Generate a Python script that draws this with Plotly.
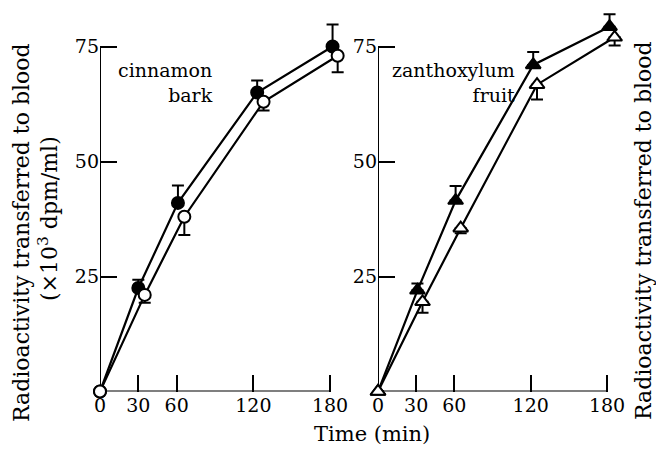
import plotly.graph_objects as go

# ---------------- data ----------------
time_ticks = [0, 30, 60, 120, 180]
y_ticks = [25, 50, 75]

cin_fill_x = [0, 30, 61, 123, 182]
cin_fill_y = [0, 22.5, 41, 65, 75]
cin_fill_err = [0, 1.8, 3.8, 2.6, 4.8]

cin_open_x = [0, 35, 66, 128, 186]
cin_open_y = [0, 21, 38, 63, 73]
cin_open_err = [0, 1.7, 4.0, 1.9, 3.6]

zan_fill_x = [0, 31, 61, 122, 182]
zan_fill_y = [0, 22, 41.5, 71, 79.3]
zan_fill_err = [0, 1.5, 3.2, 2.8, 2.7]

zan_open_x = [0, 35, 65, 125, 186]
zan_open_y = [0, 19.5, 35.5, 66.7, 77]
zan_open_err = [0, 2.4, 1.1, 3.2, 1.8]

W, H = 656, 450
FONT = "DejaVu Serif"
FS = 19


def px(x):
    return x / W


def py(y):
    return 1 - y / H


fig = go.Figure()


def add_series(xs, ys, err, filled, symbol, xa, ya, up):
    zeros = [0] * len(err)
    fig.add_trace(go.Scatter(
        x=xs, y=ys, xaxis=xa, yaxis=ya, mode="lines+markers",
        line=dict(color="black", width=2.2),
        marker=dict(symbol=symbol, size=12 if "circle" in symbol else 13,
                    color="black" if filled else "white",
                    line=dict(color="black", width=2)),
        error_y=dict(type="data", symmetric=False,
                     array=err if up else zeros,
                     arrayminus=zeros if up else err,
                     color="black", thickness=2, width=6),
        cliponaxis=False, showlegend=False,
    ))


add_series(cin_fill_x, cin_fill_y, cin_fill_err, True, "circle", "x", "y", True)
add_series(cin_open_x, cin_open_y, cin_open_err, False, "circle", "x", "y", False)
add_series(zan_fill_x, zan_fill_y, zan_fill_err, True, "triangle-up", "x2", "y2", True)
add_series(zan_open_x, zan_open_y, zan_open_err, False, "triangle-up", "x2", "y2", False)

XMAX = 192
YMAX = 85
ydom = [py(391.5), py(0.5)]

axis_common = dict(showgrid=False, zeroline=False, showline=False,
                   ticks="inside", ticklen=17, tickwidth=2, tickcolor="black",
                   tickfont=dict(family=FONT, size=FS, color="black"),
                   layer="below traces", automargin=False)

fig.update_layout(
    width=W, height=H, margin=dict(l=0, r=0, t=0, b=0, pad=0),
    paper_bgcolor="white", plot_bgcolor="white",
    xaxis=dict(domain=[px(100), px(100 + 230 / 180 * XMAX)], range=[0, XMAX],
               tickvals=time_ticks, anchor="y", **axis_common),
    yaxis=dict(domain=ydom, range=[0, YMAX], tickvals=y_ticks, anchor="x",
               **axis_common),
    xaxis2=dict(domain=[px(378), px(378 + 229 / 180 * XMAX)], range=[0, XMAX],
                tickvals=time_ticks, anchor="y2", **axis_common),
    yaxis2=dict(domain=ydom, range=[0, YMAX], tickvals=y_ticks, anchor="x2",
                **axis_common),
)

# axis lines (only spanning the labelled range)
for xr, yr in (("x", "y"), ("x2", "y2")):
    fig.add_shape(type="line", xref=xr, yref=yr, x0=0, x1=time_ticks[-1], y0=0, y1=0,
                  line=dict(color="black", width=2), layer="below")
    fig.add_shape(type="line", xref=xr, yref=yr, x0=0, x1=0, y0=0, y1=y_ticks[-1],
                  line=dict(color="black", width=2), layer="below")


def tf(s):
    return dict(family=FONT, size=s, color="black")


ann = [
    dict(text="cinnamon<br>bark", x=px(214), y=py(58), xanchor="right", yanchor="top",
         align="right", font=tf(19)),
    dict(text="zanthoxylum<br>fruit", x=px(516), y=py(58), xanchor="right", yanchor="top",
         align="right", font=tf(19)),
    dict(text="Time (min)", x=px(372), y=py(434), xanchor="center", yanchor="middle",
         font=tf(21)),
    dict(text="Radioactivity transferred to blood", x=px(21), y=py(233), textangle=-90,
         xanchor="center", yanchor="middle", font=tf(22)),
    dict(text="(×10<sup>3</sup> dpm/ml)", x=px(48), y=py(219), textangle=-90,
         xanchor="center", yanchor="middle", font=tf(22)),
    dict(text="Radioactivity transferred to blood", x=px(643), y=py(231), textangle=-90,
         xanchor="center", yanchor="middle", font=tf(22)),
]
for a in ann:
    fig.add_annotation(xref="paper", yref="paper", showarrow=False, borderpad=0, **a)

fig.write_html("out.html", config={"displayModeBar": False},
               post_script="document.body.style.margin='0';")
